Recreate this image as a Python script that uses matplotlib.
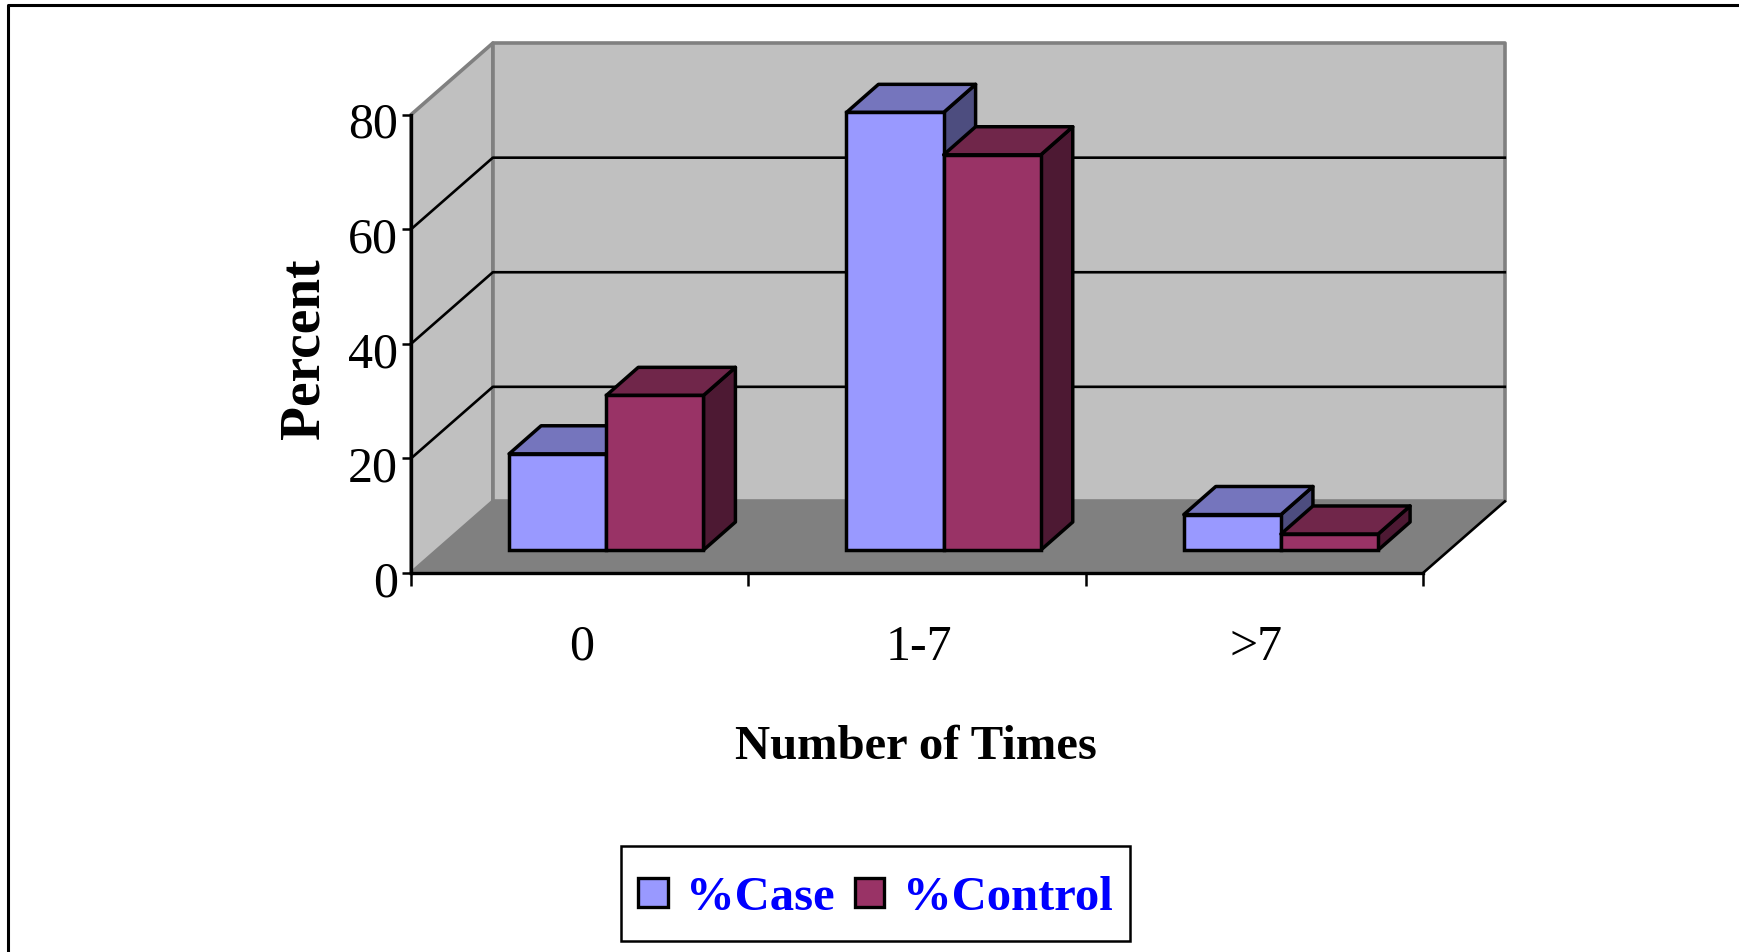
import matplotlib
matplotlib.use("Agg")
import matplotlib.pyplot as plt
from matplotlib.legend_handler import HandlerPatch
from matplotlib.lines import Line2D
from matplotlib.patches import Patch, Polygon, Rectangle
from matplotlib.transforms import ScaledTranslation

plt.rcParams['font.family'] = ['Liberation Serif', 'DejaVu Serif']

# values
categories = ["0", "1-7", ">7"]
case_pct = [16.8, 76.4, 6.2]
control_pct = [27.0, 69.0, 2.8]
series_names = ["%Case", "%Control"]
y_ticks = [0, 20, 40, 60, 80]

W, H = 1739, 953

# colours: front, top, side
CASE = ("#9999FF", "#7575BD", "#4D4D7F")
CONTROL = ("#993366", "#70264A", "#4D1933")
WALL = "#C0C0C0"
FLOOR = "#808080"

# 3d look, in data units
WALL_DX, WALL_DY = 0.2426, 12.5
FRONT_DX, FRONT_DY = 0.079, 4.0
BAR_DX, BAR_DY = 0.0947, 4.9
BAR_W = 0.288


def face(ax, pts, color, lw=2.5, edge="black", z=3):
    ax.add_patch(Polygon(pts, closed=True, facecolor=color, edgecolor=edge,
                         linewidth=lw, joinstyle="round", clip_on=False, zorder=z))


def bar3d(ax, x, val, colors, z):
    b = FRONT_DY
    t = b + val
    r = x + BAR_W
    face(ax, [(r, b), (r + BAR_DX, b + BAR_DY), (r + BAR_DX, t + BAR_DY), (r, t)], colors[2], z=z)
    face(ax, [(x, t), (r, t), (r + BAR_DX, t + BAR_DY), (x + BAR_DX, t + BAR_DY)], colors[1], z=z)
    ax.bar(x, val, BAR_W, bottom=b, align="edge", color=colors[0], edgecolor="black",
           linewidth=2.5, clip_on=False, zorder=z)


def square_handle(legend, orig_handle, xdescent, ydescent, width, height, fontsize):
    # small square in the middle of a taller legend row
    return Rectangle((-xdescent, -ydescent + (height - width) / 2 + 1), width, width)


fig = plt.figure(figsize=(W / 100, H / 100), dpi=100, facecolor="white")
ax = fig.add_axes([411 / W, (H - 574) / H, 1012 / W, 458.3 / H])
ax.set_xlim(0, len(categories))
ax.set_ylim(0, 80)
ax.patch.set_visible(False)

top = y_ticks[-1]
xr = len(categories)

# walls and floor
face(ax, [(0, 0), (0, top), (WALL_DX, top + WALL_DY), (WALL_DX, WALL_DY)], WALL, lw=2.6, edge=FLOOR, z=1)
face(ax, [(WALL_DX, WALL_DY), (WALL_DX, top + WALL_DY), (xr + WALL_DX, top + WALL_DY), (xr + WALL_DX, WALL_DY)],
     WALL, lw=2.6, edge=FLOOR, z=1)
face(ax, [(0, 0), (WALL_DX, WALL_DY), (xr + WALL_DX, WALL_DY), (xr, 0)], FLOOR, lw=0, edge=FLOOR, z=1.2)
ax.plot([xr, xr + WALL_DX], [0, WALL_DY], color="black", lw=1.9, clip_on=False, zorder=1.3)

for v in y_ticks[1:-1]:
    ax.plot([0, WALL_DX, xr + WALL_DX], [v, v + WALL_DY, v + WALL_DY], color="black", lw=1.9,
            clip_on=False, zorder=1.5)

# bars, back to front
for i in range(len(categories)):
    x0 = i + 0.5 + FRONT_DX - BAR_W
    bar3d(ax, x0, case_pct[i], CASE, 3)
    bar3d(ax, x0 + BAR_W, control_pct[i], CONTROL, 3.5)

# axes
for s in ["top", "right"]:
    ax.spines[s].set_visible(False)
for s in ["left", "bottom"]:
    ax.spines[s].set_linewidth(2.4)
    ax.spines[s].set_zorder(5)

ax.set_yticks(y_ticks)
ax.tick_params(axis="y", length=6.5, width=1.8, labelsize=36, pad=3)
ax.set_xticks(range(len(categories) + 1))
ax.set_xticklabels([])
ax.tick_params(axis="x", which="major", length=9, width=1.8)
ax.set_xticks([i + 0.5 for i in range(len(categories))], minor=True)
ax.set_xticklabels(categories, minor=True, fontsize=36)
ax.tick_params(axis="x", which="minor", length=0, pad=36)

# labels sit a little off their ticks in the original
for lab in ax.get_yticklabels():
    lab.set_transform(lab.get_transform() + ScaledTranslation(0, -0.045, fig.dpi_scale_trans))
for lab in ax.get_xticklabels(minor=True):
    lab.set_transform(lab.get_transform() + ScaledTranslation(0.02, 0, fig.dpi_scale_trans))

fig.text(304 / W, 1 - 349 / H, "Percent", rotation=90, fontsize=40, fontweight="bold",
         ha="center", va="center")
fig.text(916 / W, 1 - 747 / H, "Number of Times", fontsize=35, fontweight="bold",
         ha="center", va="center")

handles = [Patch(facecolor=CASE[0], edgecolor="black", linewidth=2.4),
           Patch(facecolor=CONTROL[0], edgecolor="black", linewidth=2.4)]
leg = fig.legend(handles, series_names, ncol=2, loc="center",
                 bbox_to_anchor=(875.5 / W, 1 - 894.5 / H), fontsize=35, frameon=True, fancybox=False,
                 edgecolor="black", framealpha=1, handlelength=0.6, handleheight=1.55,
                 handletextpad=0.38, columnspacing=0.42, borderpad=0.36, borderaxespad=0,
                 handler_map={Patch: HandlerPatch(patch_func=square_handle)})
leg.get_frame().set_linewidth(1.8)
for t in leg.get_texts():
    t.set_color("#0000FF")
    t.set_fontweight("bold")

# outer frame, open on the right and bottom
fig.add_artist(Line2D([8 / W, 8 / W, 1], [0, 1 - 6 / H, 1 - 6 / H], color="black", lw=2.2))

fig.savefig("out.png", dpi=100)
